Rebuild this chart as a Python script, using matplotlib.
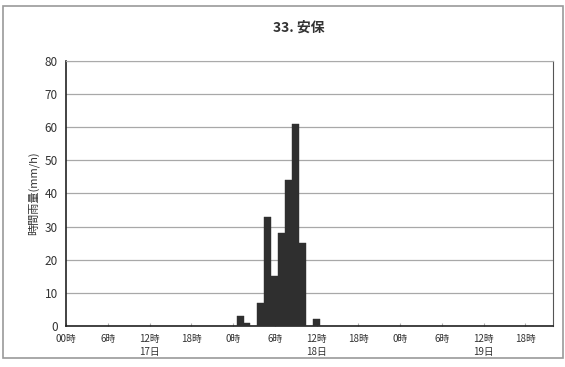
import matplotlib.pyplot as plt
from matplotlib.patches import Rectangle

plt.rcParams['font.family'] = ['Noto Sans CJK JP', 'DejaVu Sans']

# hourly rainfall (mm/h), hours counted from 17日 0時
hours = [25, 26, 28, 29, 30, 31, 32, 33, 34, 36]
rain = [3, 1, 7, 33, 15, 28, 44, 61, 25, 2]

tick_hours = list(range(0, 72, 6))
tick_labels = ['00時', '6時', '12時\n17日', '18時',
               '0時', '6時', '12時\n18日', '18時',
               '0時', '6時', '12時\n19日', '18時']
y_ticks = list(range(0, 90, 10))

fig = plt.figure(figsize=(5.65, 3.67), dpi=100)
fig.patches.append(Rectangle((0.006, 0.025), 0.99, 0.96, transform=fig.transFigure,
                             fill=False, edgecolor='#9a9a9a', linewidth=1.2))

ax = fig.add_axes([0.117, 0.112, 0.862, 0.722])
ax.bar(hours, rain, width=1.0, color='#2f2f2f', edgecolor='#2f2f2f', linewidth=0.3, zorder=3)

ax.set_xlim(0, 70)
ax.set_ylim(0, 80)
ax.set_yticks(y_ticks)
ax.set_xticks(tick_hours)
ax.set_xticklabels(tick_labels, fontsize=7, color='#333333', linespacing=1.3)
ax.tick_params(axis='y', labelsize=8.5, colors='#333333', length=0, pad=6)
ax.tick_params(axis='x', length=2, direction='in', color='#aaaaaa', pad=6)
ax.grid(axis='y', color='#a8a8a8', linewidth=0.9, zorder=0)

for side in ['left', 'bottom']:
    ax.spines[side].set_color('#222222')
    ax.spines[side].set_linewidth(1.2)
ax.spines['right'].set_color('#555555')
ax.spines['top'].set_color('#aaaaaa')

ax.set_ylabel('時間雨量(mm/h)', fontsize=8, color='#333333', labelpad=4)
fig.text(0.528, 0.925, '33. 安保', ha='center', va='center', fontsize=10,
         fontweight='bold', color='#333333')

plt.savefig('out.png', dpi=100)
